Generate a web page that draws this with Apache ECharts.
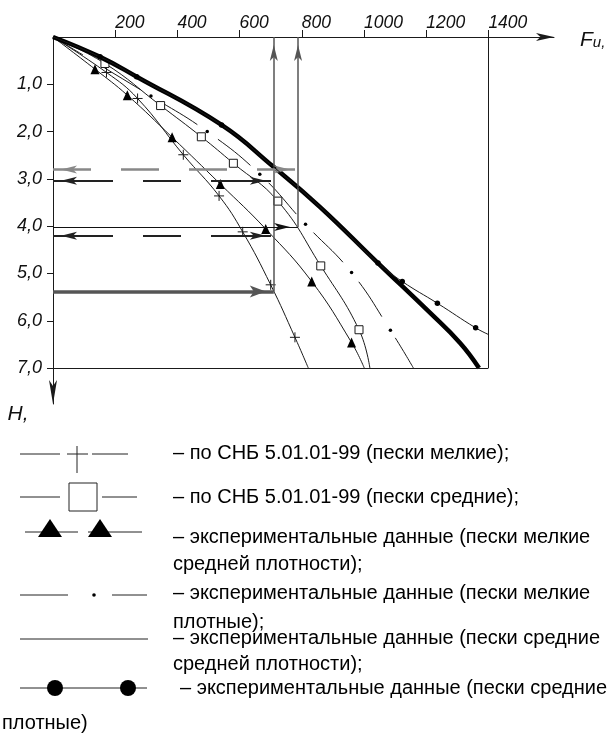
<!DOCTYPE html>
<html><head><meta charset="utf-8">
<script src="https://cdn.jsdelivr.net/npm/echarts@6/dist/echarts.min.js"></script>
<style>html,body{margin:0;padding:0;background:#fff}#c{width:608px;height:738px}</style>
</head><body><div id="c"></div>
<script>
// ---- data (F_u in kN, H in m) ----
const xTicks = [200, 400, 600, 800, 1000, 1200, 1400];
const yTicks = [1, 2, 3, 4, 5, 6, 7];
// по СНБ 5.01.01-99 (пески мелкие)  "+"
const snbFineF = [0, 172, 272, 419, 534, 610, 700, 778, 821];
const snbFineH = [0, 0.75, 1.30, 2.49, 3.36, 4.12, 5.24, 6.35, 7.0];
// по СНБ 5.01.01-99 (пески средние)  squares
const snbMedF = [0, 167, 346, 477, 580, 723, 861, 984, 1019];
const snbMedH = [0, 0.56, 1.45, 2.11, 2.67, 3.47, 4.84, 6.19, 7.0];
// эксперимент: пески мелкие средней плотности  triangles
const expFineMidF = [0, 135, 239, 383, 538, 684, 832, 960, 1001];
const expFineMidH = [0, 0.68, 1.23, 2.12, 3.11, 4.06, 5.17, 6.46, 7.0];
// эксперимент: пески мелкие плотные  dash-dot
const expFineDenseF = [0, 315, 496, 665, 812, 960, 1085, 1159];
const expFineDenseH = [0, 1.25, 2.00, 2.90, 3.96, 4.98, 6.20, 7.0];
// эксперимент: пески средние средней плотности  thick line
const expMedMidF = [0, 151, 269, 542, 708, 858, 1045, 1212, 1309, 1370];
const expMedMidH = [0, 0.42, 0.84, 1.86, 2.74, 3.59, 4.78, 5.83, 6.47, 7.0];
// эксперимент: пески средние плотные  filled circles
const expMedDenseF = [0, 151, 269, 542, 708, 858, 1045, 1123, 1236, 1359, 1400];
const expMedDenseH = [0, 0.42, 0.84, 1.86, 2.74, 3.59, 4.78, 5.17, 5.63, 6.15, 6.29];
const expMedDenseHidden = [4, 5]; // points lying under the thick curve
// construction lines
const fA = 710, fB = 788;
const hGrey = 2.8, hDashA = 3.04, hThin = 4.02, hDashB = 4.2, hDouble = 5.38;
const fBorder = 1400, hBorder = 7;

const legendLines = [
  '– по СНБ 5.01.01-99 (пески мелкие);',
  '– по СНБ 5.01.01-99 (пески средние);',
  '– экспериментальные данные (пески мелкие',
  'средней плотности);',
  '– экспериментальные данные (пески мелкие',
  'плотные);',
  '– экспериментальные данные (пески средние',
  'средней плотности);',
  '– экспериментальные данные (пески средние',
  'плотные)'
];

// ---- chart ----
const SANS = "'Liberation Sans', Arial, sans-serif";
const chart = echarts.init(document.getElementById('c'), null, {renderer: 'canvas'});

function pts(F, H, hidden) {
  return F.map(function (f, i) {
    const it = {value: [f, H[i]]};
    if (i === 0 || i === F.length - 1 || (hidden && hidden.indexOf(i) >= 0)) it.symbol = 'none';
    return it;
  });
}
function seg(f1, h1, f2, h2) { return [{coord: [f1, h1]}, {coord: [f2, h2]}]; }

const thin = {color: '#1a1a1a', width: 1};
const SM = 0.45;

function ml(name, lines, style, symbols, size) {
  const h = Array.isArray(size) ? size[1] : size;
  return {
    type: 'line', name: name, data: [], silent: true, z: 6,
    markLine: {
      silent: true, animation: false, label: {show: false}, emphasis: {disabled: true},
      symbol: symbols, symbolSize: size, symbolOffset: [[0, h / 2], [0, h / 2]],
      lineStyle: style, data: lines
    }
  };
}

const series = [
  {type: 'line', name: 'по СНБ 5.01.01-99 (пески мелкие)', data: pts(snbFineF, snbFineH), smooth: SM,
   symbol: 'path://M5,0L5,10M0,5L10,5', symbolSize: 10, lineStyle: thin,
   itemStyle: {color: 'rgba(0,0,0,0)', borderColor: '#1a1a1a', borderWidth: 1}, z: 3},
  {type: 'line', name: 'по СНБ 5.01.01-99 (пески средние)', data: pts(snbMedF, snbMedH), smooth: SM,
   symbol: 'rect', symbolSize: 8, lineStyle: thin,
   itemStyle: {color: '#fff', borderColor: '#1a1a1a', borderWidth: 1}, z: 3},
  {type: 'line', name: 'пески мелкие средней плотности', data: pts(expFineMidF, expFineMidH), smooth: SM,
   symbol: 'triangle', symbolSize: [9, 10], lineStyle: thin, itemStyle: {color: '#000'}, z: 3},
  {type: 'line', name: 'пески мелкие плотные', data: pts(expFineDenseF, expFineDenseH), smooth: SM,
   symbol: 'circle', symbolSize: 3.5,
   lineStyle: {color: '#1a1a1a', width: 1, type: [42, 25], dashOffset: 7}, itemStyle: {color: '#000'}, z: 3},
  {type: 'line', name: 'пески средние плотные', data: pts(expMedDenseF, expMedDenseH, expMedDenseHidden), smooth: SM,
   symbol: 'circle', symbolSize: 5.5, lineStyle: thin, itemStyle: {color: '#000'}, z: 5},
  {type: 'line', name: 'пески средние средней плотности', data: pts(expMedMidF, expMedMidH), smooth: SM,
   symbol: 'none', lineStyle: {color: '#000', width: 4.5}, z: 4},
  ml('border', [seg(0, hBorder, fBorder, hBorder), seg(fBorder, 0, fBorder, hBorder)],
     {color: '#1a1a1a', width: 1, type: 'solid'}, ['none', 'none'], 8),
  ml('verticals', [seg(fA, hDouble, fA, 0), seg(fB, hThin, fB, 0)],
     {color: '#555', width: 1.5, type: 'solid'}, ['none', 'arrow'], [6, 16]),
  ml('grey', [seg(0, hGrey, fB, hGrey)],
     {color: '#888', width: 2.5, type: [38, 30]}, ['arrow', 'arrow'], [6, 16]),
  ml('dashed', [seg(0, hDashA, fA, hDashA), seg(0, hDashB, fA, hDashB)],
     {color: '#222', width: 2.2, type: [60, 30, 38, 30]}, ['arrow', 'arrow'], [6, 16]),
  ml('thin', [seg(0, hThin, fB, hThin)],
     {color: '#111', width: 1, type: 'solid'}, ['none', 'arrow'], [6, 16]),
  ml('double', [seg(0, hDouble, fA, hDouble)],
     {color: '#555', width: 3.5, type: 'solid'}, ['none', 'arrow'], [9, 16])
];

// legend graphics
const G = [];
const LS = {stroke: '#222', lineWidth: 1};
function hl(x1, x2, y) { G.push({type: 'line', shape: {x1: x1, y1: y, x2: x2, y2: y}, style: LS}); }
hl(20, 60, 454); hl(92, 128, 454); hl(67, 88, 454);
G.push({type: 'line', shape: {x1: 77, y1: 446, x2: 77, y2: 473}, style: LS});
hl(20, 60, 497); hl(102, 137, 497);
G.push({type: 'rect', shape: {x: 69, y: 483, width: 28, height: 28}, style: {fill: '#fff', stroke: '#222', lineWidth: 1}});
hl(25, 78, 532); hl(88, 142, 532);
[50, 100].forEach(function (cx) {
  G.push({type: 'polygon', shape: {points: [[cx, 519], [cx - 12, 537], [cx + 12, 537]]}, style: {fill: '#000'}});
});
hl(20, 68, 595); hl(112, 147, 595);
G.push({type: 'circle', shape: {cx: 94, cy: 595, r: 1.8}, style: {fill: '#000'}});
hl(20, 148, 639);
hl(20, 147, 688);
[55, 128].forEach(function (cx) {
  G.push({type: 'circle', shape: {cx: cx, cy: 688, r: 8}, style: {fill: '#000'}});
});
const textPos = [[173, 453], [173, 497], [173, 537], [173, 564], [173, 593], [173, 622], [173, 638], [173, 664], [180, 688], [2, 723]];
legendLines.forEach(function (t, i) {
  G.push({type: 'text', x: textPos[i][0], y: textPos[i][1],
    style: {text: t, font: '20px ' + SANS, fill: '#000', align: 'left', verticalAlign: 'middle'}});
});

const option = {
  animation: false,
  backgroundColor: '#fff',
  grid: {left: 53, top: 37, width: 501, height: 367, show: false},
  xAxis: {
    type: 'value', position: 'top', min: 0, max: 1611,
    name: '{F|F}{u|u,}', nameLocation: 'end', nameGap: 26,
    nameTextStyle: {rich: {
      F: {fontFamily: SANS, fontStyle: 'italic', fontSize: 21, color: '#111'},
      u: {fontFamily: SANS, fontStyle: 'italic', fontSize: 15, color: '#111', padding: [6, 0, 0, 0]}
    }, padding: [6, 0, 0, 0]},
    axisLine: {show: true, onZero: false, symbol: ['none', 'arrow'], symbolSize: [6, 18], lineStyle: {color: '#1a1a1a', width: 1}},
    axisTick: {show: true, length: 7, customValues: xTicks, lineStyle: {color: '#1a1a1a'}},
    axisLabel: {customValues: xTicks, fontFamily: SANS, fontStyle: 'italic', fontSize: 17.5, color: '#111', margin: 5, align: 'left',
      formatter: function (v) { return String(v); }},
    splitLine: {show: false}
  },
  yAxis: {
    type: 'value', inverse: true, min: 0, max: 7.76,
    name: 'H,', nameLocation: 'end', nameGap: 0,
    nameTextStyle: {fontFamily: SANS, fontStyle: 'italic', fontSize: 21, color: '#111', padding: [0, 70, 0, 0]},
    axisLine: {show: true, onZero: false, symbol: ['arrow', 'none'], symbolSize: [6, 24], lineStyle: {color: '#1a1a1a', width: 1}},
    axisTick: {show: true, length: 6, customValues: yTicks, lineStyle: {color: '#1a1a1a'}},
    axisLabel: {customValues: yTicks, fontFamily: SANS, fontStyle: 'italic', fontSize: 18, color: '#111', margin: 11,
      formatter: function (v) { return v.toFixed(1).replace('.', ','); }},
    splitLine: {show: false}
  },
  series: series,
  graphic: G
};
chart.setOption(option);
</script>
</body></html>
